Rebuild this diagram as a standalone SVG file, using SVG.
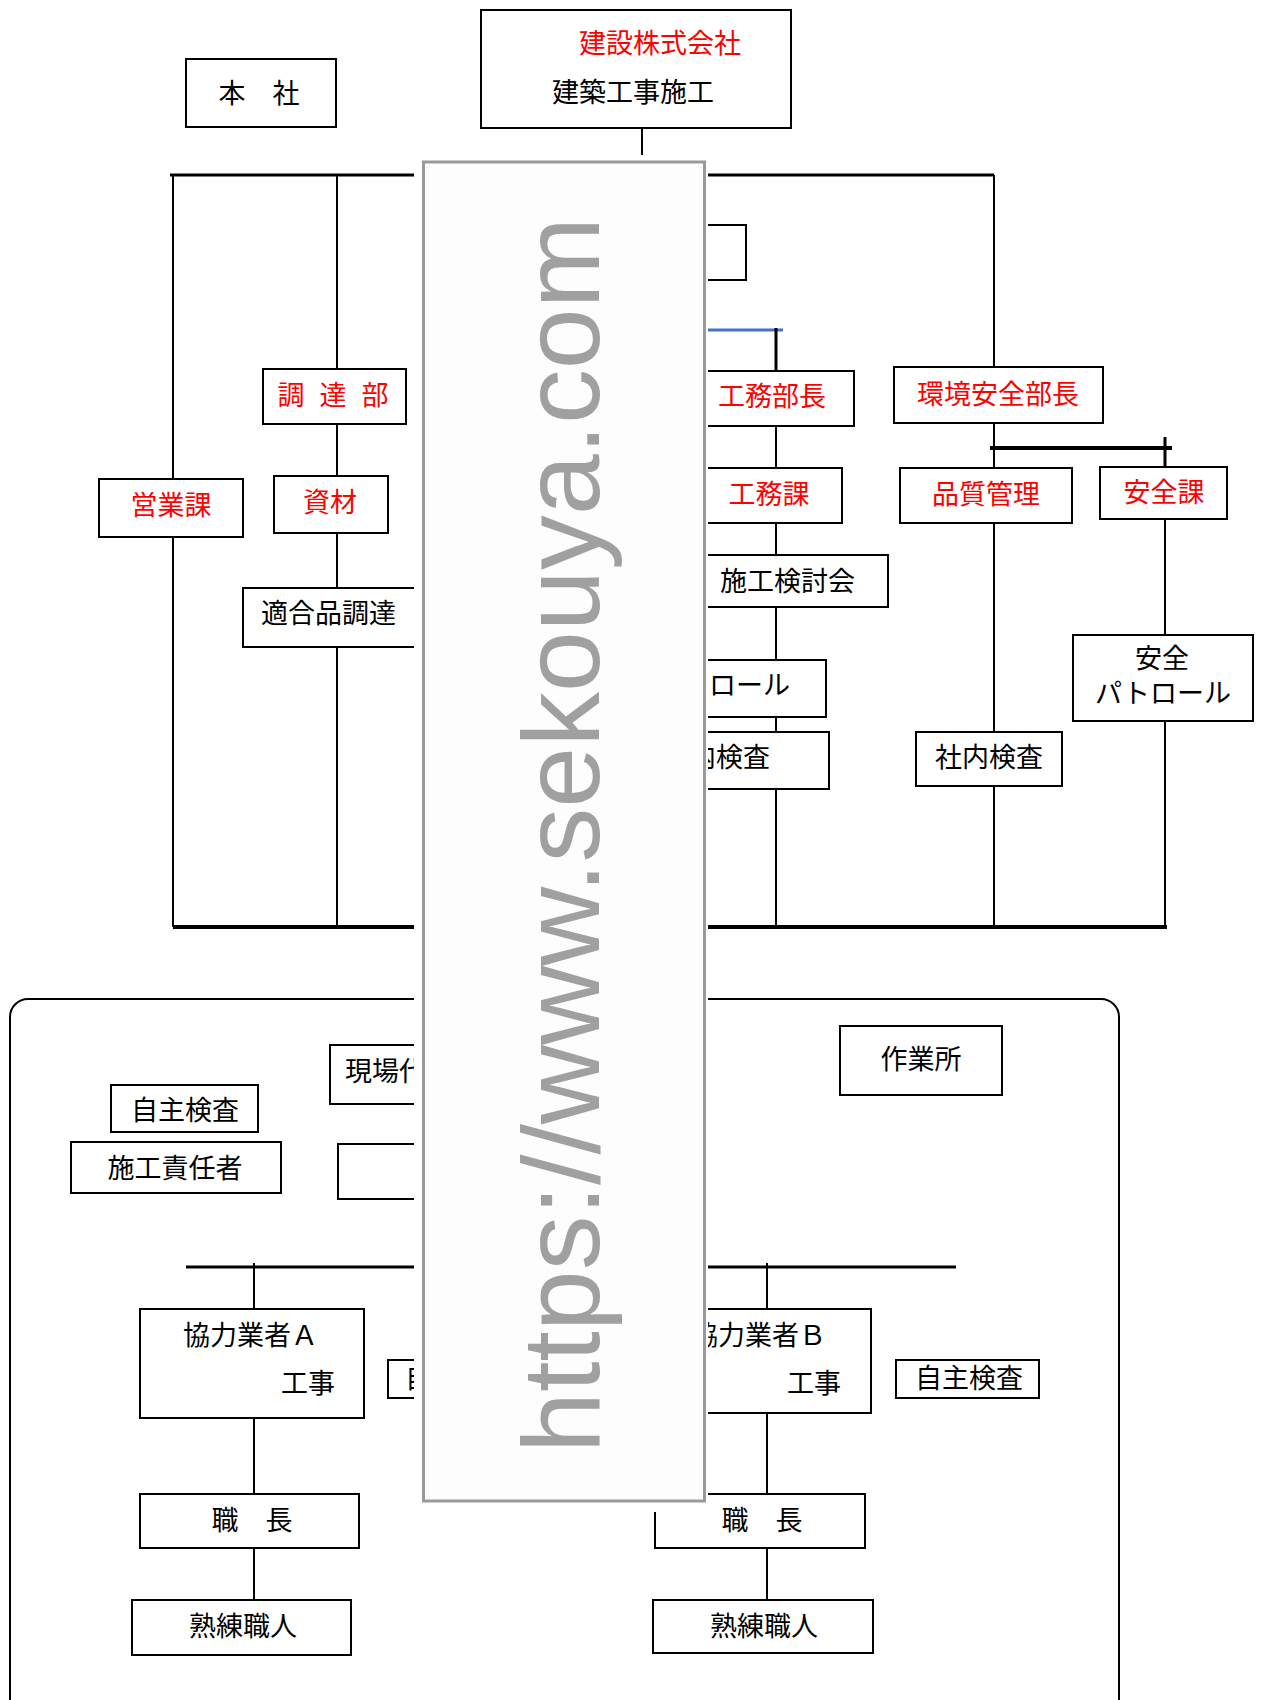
<svg xmlns="http://www.w3.org/2000/svg" width="1261" height="1700" viewBox="0 0 1261 1700">
<style>
.b{fill:#fff;stroke:#000;stroke-width:2}
.t{font-family:"Noto Sans CJK JP","Noto Sans CJK SC",sans-serif;font-size:27px;fill:#000}
.r{fill:#ff0000}
.m{text-anchor:middle}
.e{text-anchor:end}
.l{stroke:#000;stroke-width:2;fill:none}
.k{stroke:#000;stroke-width:3;fill:none}
</style>
<rect width="1261" height="1700" fill="#fff"/>
<rect x="10" y="999" width="1109" height="720" rx="18" ry="18" class="l"/>
<g id="connectors">
<line x1="642" y1="128" x2="642" y2="155" class="l"/>
<line x1="170" y1="175" x2="994" y2="175" class="k"/>
<line x1="173" y1="175" x2="173" y2="479" class="l"/>
<line x1="173" y1="537" x2="173" y2="927" class="l"/>
<line x1="337" y1="175" x2="337" y2="369" class="l"/>
<line x1="337" y1="424" x2="337" y2="476" class="l"/>
<line x1="337" y1="533" x2="337" y2="588" class="l"/>
<line x1="337" y1="647" x2="337" y2="927" class="l"/>
<line x1="687" y1="330" x2="783" y2="330" stroke="#4472c4" stroke-width="3"/>
<line x1="776" y1="328" x2="776" y2="371" class="k"/>
<line x1="776" y1="426" x2="776" y2="468" class="l"/>
<line x1="776" y1="523" x2="776" y2="555" class="l"/>
<line x1="776" y1="607" x2="776" y2="660" class="l"/>
<line x1="776" y1="717" x2="776" y2="732" class="l"/>
<line x1="776" y1="789" x2="776" y2="927" class="l"/>
<line x1="994" y1="175" x2="994" y2="367" class="l"/>
<line x1="994" y1="423" x2="994" y2="468" class="l"/>
<line x1="994" y1="523" x2="994" y2="732" class="l"/>
<line x1="994" y1="786" x2="994" y2="927" class="l"/>
<line x1="990" y1="448" x2="1172" y2="448" stroke="#000" stroke-width="4"/>
<line x1="1165" y1="437" x2="1165" y2="467" class="k"/>
<line x1="1165" y1="519" x2="1165" y2="635" class="l"/>
<line x1="1165" y1="721" x2="1165" y2="925" class="l"/>
<line x1="173" y1="927" x2="1167" y2="927" stroke="#000" stroke-width="4"/>
<line x1="186" y1="1267" x2="956" y2="1267" class="k"/>
<line x1="254" y1="1263" x2="254" y2="1309" class="l"/>
<line x1="254" y1="1418" x2="254" y2="1494" class="l"/>
<line x1="254" y1="1548" x2="254" y2="1600" class="l"/>
<line x1="767" y1="1263" x2="767" y2="1309" class="l"/>
<line x1="767" y1="1413" x2="767" y2="1494" class="l"/>
<line x1="767" y1="1548" x2="767" y2="1600" class="l"/>
</g>
<g id="n-company"><rect x="481" y="10" width="310" height="118" class="b"/><text x="660" y="53" class="t r m">建設株式会社</text><text x="633" y="102" class="t m">建築工事施工</text></g>
<g id="n-honsha"><rect x="186" y="59" width="150" height="68" class="b"/><text x="259" y="103" class="t m">本　社</text></g>
<g id="n-hidden1"><rect x="597" y="225" width="149" height="55" class="b"/></g>
<g id="n-chotatsu"><rect x="263" y="369" width="143" height="55" class="b"/><text x="333" y="405" class="t r m" style="word-spacing:9px">調 達 部</text></g>
<g id="n-eigyo"><rect x="99" y="479" width="144" height="58" class="b"/><text x="171" y="515" class="t r m">営業課</text></g>
<g id="n-shizai"><rect x="274" y="476" width="114" height="57" class="b"/><text x="330" y="512" class="t r m">資材</text></g>
<g id="n-tekigo"><rect x="243" y="588" width="189" height="59" class="b"/><text x="261" y="623" class="t">適合品調達</text></g>
<g id="n-komubucho"><rect x="699" y="371" width="155" height="55" class="b"/><text x="772" y="406" class="t r m">工務部長</text></g>
<g id="n-kankyo"><rect x="894" y="367" width="209" height="56" class="b"/><text x="998" y="404" class="t r m">環境安全部長</text></g>
<g id="n-komuka"><rect x="687" y="468" width="155" height="55" class="b"/><text x="769" y="504" class="t r m">工務課</text></g>
<g id="n-hinshitsu"><rect x="900" y="468" width="172" height="55" class="b"/><text x="986" y="504" class="t r m">品質管理</text></g>
<g id="n-anzenka"><rect x="1100" y="467" width="127" height="52" class="b"/><text x="1164" y="502" class="t r m">安全課</text></g>
<g id="n-sekokento"><rect x="687" y="555" width="201" height="52" class="b"/><text x="720" y="591" class="t">施工検討会</text></g>
<g id="n-patrol1"><rect x="687" y="660" width="139" height="57" class="b"/><text x="790" y="695" class="t e">パトロール</text></g>
<g id="n-kensa1"><rect x="687" y="732" width="142" height="57" class="b"/><text x="770" y="767" class="t e">社内検査</text></g>
<g id="n-shanai"><rect x="916" y="732" width="146" height="54" class="b"/><text x="989" y="767" class="t m">社内検査</text></g>
<g id="n-anzenpatrol"><rect x="1073" y="635" width="180" height="86" class="b"/><text x="1162" y="668" class="t m">安全</text><text x="1163" y="703" class="t m">パトロール</text></g>
<g id="n-genba"><rect x="330" y="1045" width="109" height="59" class="b"/><text x="345" y="1081" class="t">現場代理人</text></g>
<g id="n-jishu1"><rect x="111" y="1085" width="147" height="47" class="b"/><text x="185" y="1120" class="t m">自主検査</text></g>
<g id="n-sekinin"><rect x="71" y="1142" width="210" height="51" class="b"/><text x="175" y="1178" class="t m">施工責任者</text></g>
<g id="n-hidden2"><rect x="338" y="1144" width="100" height="55" class="b"/></g>
<g id="n-sagyosho"><rect x="840" y="1026" width="162" height="69" class="b"/><text x="921" y="1069" class="t m">作業所</text></g>
<g id="n-kyoryokuA"><rect x="140" y="1309" width="224" height="109" class="b"/><text x="183" y="1345" class="t">協力業者Ａ</text><text x="281" y="1393" class="t">工事</text></g>
<g id="n-jishu2"><rect x="388" y="1360" width="60" height="38" class="b"/><text x="405" y="1388" class="t">自主検査</text></g>
<g id="n-kyoryokuB"><rect x="662" y="1309" width="209" height="104" class="b"/><text x="826" y="1345" class="t e">協力業者Ｂ</text><text x="787" y="1393" class="t">工事</text></g>
<g id="n-jishu3"><rect x="896" y="1360" width="143" height="38" class="b"/><text x="969" y="1388" class="t m">自主検査</text></g>
<g id="n-shokuchoA"><rect x="140" y="1494" width="219" height="54" class="b"/><text x="252" y="1530" class="t m">職　長</text></g>
<g id="n-shokuchoB"><rect x="655" y="1494" width="210" height="54" class="b"/><text x="762" y="1530" class="t m">職　長</text></g>
<g id="n-jukurenA"><rect x="132" y="1600" width="219" height="55" class="b"/><text x="243" y="1636" class="t m">熟練職人</text></g>
<g id="n-jukurenB"><rect x="653" y="1600" width="220" height="53" class="b"/><text x="764" y="1636" class="t m">熟練職人</text></g>
<g id="watermark">
<rect x="414" y="155" width="294" height="1357" fill="#fff"/>
<rect x="423.5" y="162" width="281" height="1339" fill="#fdfdfd" stroke="#9a9a9a" stroke-width="3"/>
<text transform="translate(599,1453) rotate(-90)" font-family="'Liberation Sans',Arial,sans-serif" font-size="110" fill="#a0a0a0" textLength="1236" lengthAdjust="spacingAndGlyphs">https://www.sekouya.com</text>
</g>
</svg>
